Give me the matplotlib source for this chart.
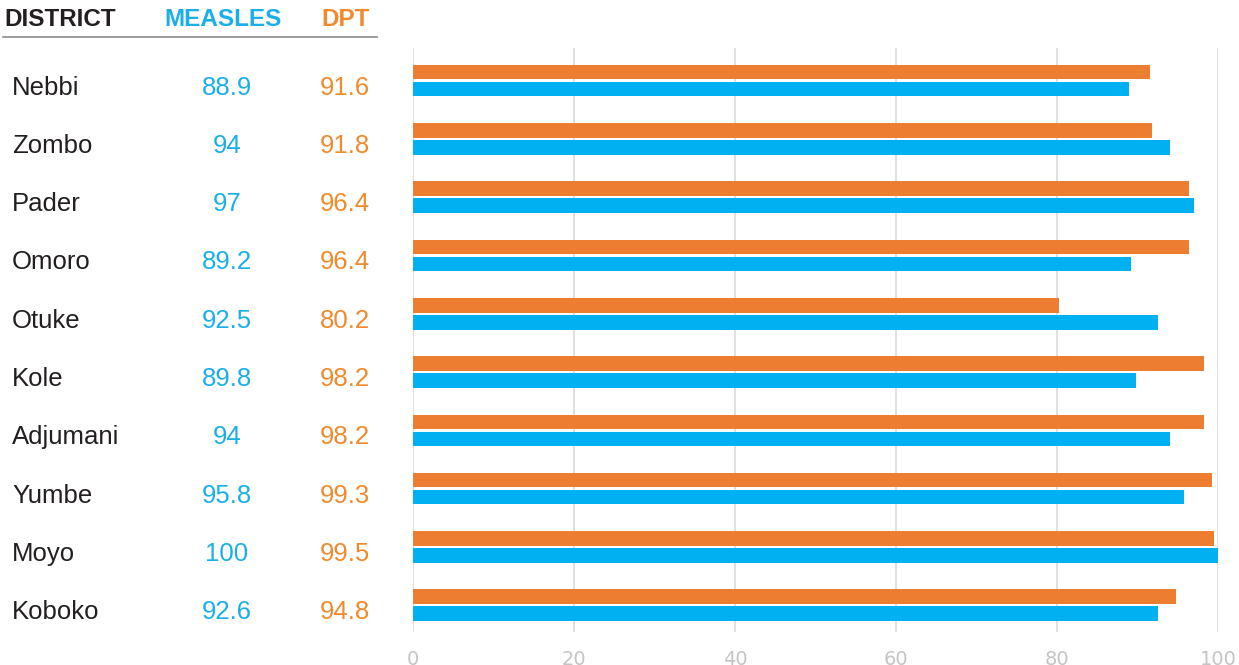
import matplotlib.pyplot as plt
import matplotlib.transforms as mtransforms
import numpy as np

districts = ["Nebbi", "Zombo", "Pader", "Omoro", "Otuke", "Kole", "Adjumani", "Yumbe", "Moyo", "Koboko"]
measles = [88.9, 94, 97, 89.2, 92.5, 89.8, 94, 95.8, 100, 92.6]
dpt = [91.6, 91.8, 96.4, 96.4, 80.2, 98.2, 98.2, 99.3, 99.5, 94.8]
measles_labels = ["88.9", "94", "97", "89.2", "92.5", "89.8", "94", "95.8", "100", "92.6"]
dpt_labels = ["91.6", "91.8", "96.4", "96.4", "80.2", "98.2", "98.2", "99.3", "99.5", "94.8"]
x_ticks = [0, 20, 40, 60, 80, 100]

BLUE = "#00B0F0"
ORANGE = "#ED7D31"
BLUE_TXT = "#1AAFE8"
ORANGE_TXT = "#F08A2C"
FAM = ["Liberation Sans", "DejaVu Sans"]

W, H = 1239, 665
fig = plt.figure(figsize=[W / 100, H / 100], dpi=100)
ax = fig.add_axes([413 / W, 1 - 632 / H, (1218 - 413) / W, (632 - 48) / H])

y = np.arange(len(districts))
ax.barh(y - 0.145, dpt, height=0.25, color=ORANGE, zorder=3)
ax.barh(y + 0.145, measles, height=0.25, color=BLUE, zorder=3)

ax.set_xlim(0, 100)
ax.set_ylim(9.46, -0.56)
ax.set_xticks(x_ticks)
ax.set_yticks([])
ax.xaxis.grid(True, color="#D9D9D9", linewidth=1.2, zorder=0)
for s in ["top", "right", "bottom", "left"]:
    ax.spines[s].set_visible(False)
ax.tick_params(axis="x", length=0, pad=13, labelsize=14, labelcolor="#C4C4C4")

# table on the left
trans = mtransforms.blended_transform_factory(fig.transFigure, ax.transData)
for i, name in enumerate(districts):
    fig.text(12 / W, i + 0.12, name, transform=trans, fontsize=18.5, color="#231F20",
             ha="left", va="center", family=FAM)
    fig.text(227 / W, i + 0.12, measles_labels[i], transform=trans, fontsize=18.5, color=BLUE_TXT,
             ha="center", va="center", family=FAM)
    fig.text(345 / W, i + 0.12, dpt_labels[i], transform=trans, fontsize=18.5, color=ORANGE_TXT,
             ha="center", va="center", family=FAM)

hy = 1 - 19 / H
fig.text(4 / W, hy, "DISTRICT", fontsize=17.5, fontweight="bold", color="#231F20",
         ha="left", va="center", family=FAM)
fig.text(223 / W, hy, "MEASLES", fontsize=17.5, fontweight="bold", color=BLUE_TXT,
         ha="center", va="center", family=FAM)
fig.text(346 / W, hy, "DPT", fontsize=17.5, fontweight="bold", color=ORANGE_TXT,
         ha="center", va="center", family=FAM)
fig.add_artist(plt.Line2D([3 / W, 377 / W], [1 - 37 / H, 1 - 37 / H], color="#8C8C8C", linewidth=1.2))

fig.savefig("out.png", dpi=100)
